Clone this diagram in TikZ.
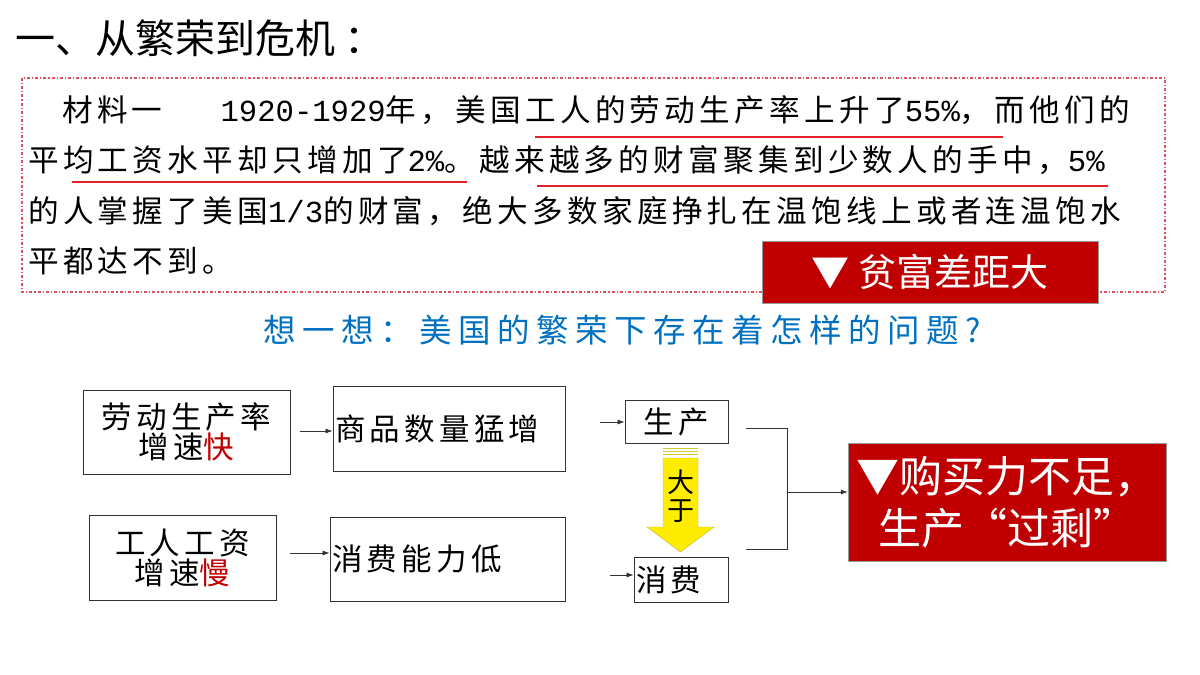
\documentclass[tikz,border=0pt]{standalone}
\usepackage{fontspec}
\usetikzlibrary{arrows.meta}
\setmainfont{Noto Sans CJK SC}
\newfontfamily\spc[LetterSpace=14]{Noto Sans CJK SC}
\newfontfamily\spq[LetterSpace=20]{Noto Sans CJK SC}
\newfontfamily\latm{Liberation Mono}
\newcommand{\lt}[1]{{\latm\addfontfeatures{LetterSpace=0}#1}}
\definecolor{dred}{RGB}{192,0,0}
\definecolor{bred}{RGB}{230,30,40}
\definecolor{qblue}{RGB}{0,112,192}
\definecolor{dashred}{RGB}{225,80,100}
\begin{document}
\begin{tikzpicture}[x=1pt,y=-1pt,
  para/.style={anchor=west,inner sep=0pt,font=\spc\fontsize{30.6}{30}\selectfont},
  bx/.style={draw=black!80,line width=0.8pt,inner sep=0pt,font=\spc\fontsize{30.5}{34}\selectfont,align=center},
  rbox/.style={fill=dred,draw=black!40,inner sep=0pt,text=white,align=center},
  ar/.style={-{Latex[length=7pt,width=5pt]},line width=0.7pt,black!80},
  ul/.style={bred,line width=1.6pt}]
\useasboundingbox (0,0) rectangle (1200,675);
\node[anchor=west,inner sep=0pt,font=\fontsize{40}{44}\selectfont] (title) at (15,38) {一、从繁荣到危机 ：};
\draw[dashred,line width=1.2pt,dash dot] (22,78) rectangle (1165,292);
\node[para] (l1) at (62,110) {材料一\hspace{58pt}\lt{1920-1929}年，美国工人的劳动生产率上升了\lt{55\%}，而他们的};
\node[para] (l2) at (28,160) {平均工资水平却只增加了\lt{2\%}。越来越多的财富聚集到少数人的手中，\lt{5\%}};
\node[para] (l3) at (28,211) {的人掌握了美国\lt{1/3}的财富，绝大多数家庭挣扎在温饱线上或者连温饱水};
\node[para] (l4) at (28,261) {平都达不到。};
\draw[ul] (535,137) -- (1003,137);
\draw[ul] (72,182) -- (467,182);
\draw[ul] (537,186) -- (1108,186);
\node[rbox,minimum width=336,minimum height=62,font=\fontsize{38}{44}\selectfont] (gap) at (930,272) {▼ 贫富差距大};
\node[text=qblue,font=\spq\fontsize{32.5}{38}\selectfont] (q) at (622,330) {想一想：美国的繁荣下存在着怎样的问题?};
\node[bx,minimum width=207,minimum height=84] (a1) at (186.5,432) {劳动生产率\\[-4pt]增速\textcolor{dred}{快}};
\node[bx,minimum width=232,minimum height=85,text width=228,align=left] (a2) at (449,428.5) {商品数量猛增};
\node[bx,minimum width=103,minimum height=43] (a3) at (676.5,421.5) {生产};
\node[bx,minimum width=187,minimum height=85] (b1) at (182.5,557.5) {工人工资\\[-4pt]增速\textcolor{dred}{慢}};
\node[bx,minimum width=235,minimum height=84,text width=231,align=left] (b2) at (447.5,559) {消费能力低};
\node[bx,minimum width=94,minimum height=45,text width=90,align=left] (b3) at (681,579.5) {消费};
\node[rbox,minimum width=318,minimum height=118,font=\fontsize{43}{52}\selectfont] (res) at (1007,502) {▼购买力不足，\\生产“过剩”};
\coordinate (s1) at (300,431); \draw[ar] (s1) -- (s1 -| a2.west);
\coordinate (s2) at (290,553); \draw[ar] (s2) -- (s2 -| b2.west);
\coordinate (p1) at (600,422); \draw[ar] (p1) -- (p1 -| a3.west);
\coordinate (p2) at (610,575); \draw[ar] (p2) -- (p2 -| b3.west);
\coordinate (t1) at (746,428); \coordinate (t2) at (746,549);
\coordinate (m) at (787,492);
\draw[black!80,line width=0.8pt] (t1) -- (787,428) -- (787,549) -- (t2);
\draw[ar] (m) -- (m -| res.west);
\fill[yellow!95!orange,draw=yellow!70!black,line width=0.4pt] (663,458) -- (698,458) -- (698,527) -- (714,527) -- (680.5,552) -- (647,527) -- (663,527) -- cycle;
\foreach \yy in {448,451,454}{\draw[yellow!80!black,line width=1pt] (663,\yy) -- (698,\yy);}
\node[font=\fontsize{27}{28}\selectfont,align=center] (da) at (680.5,496) {大\\于};
\end{tikzpicture}
\end{document}
